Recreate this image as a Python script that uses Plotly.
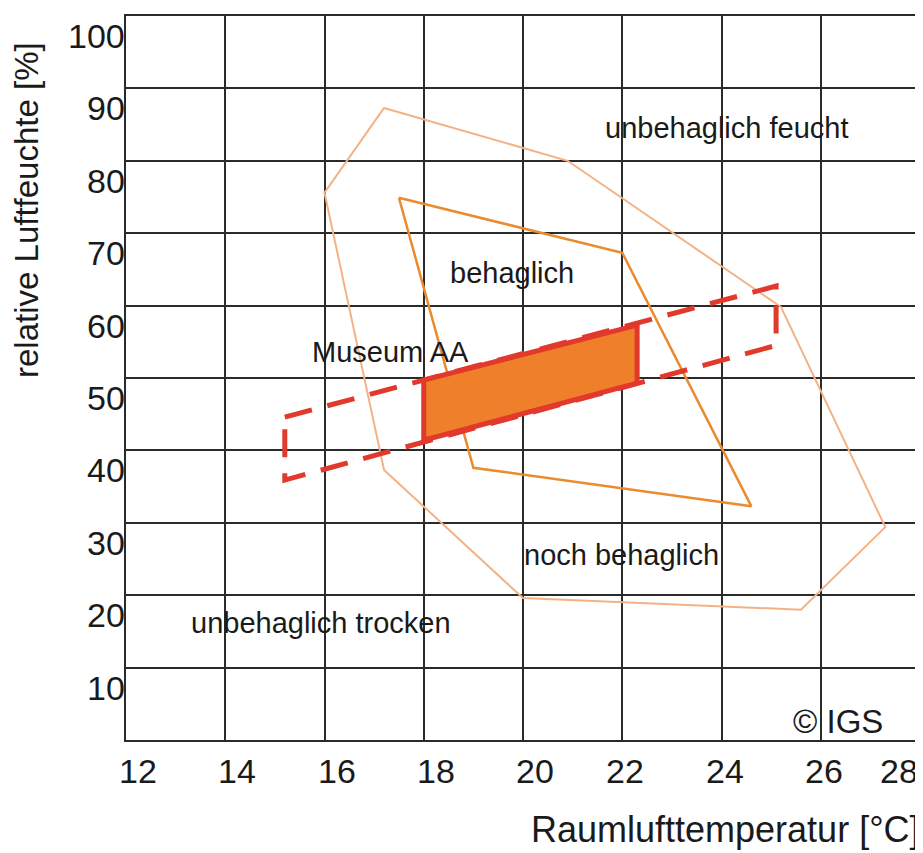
import plotly.graph_objects as go

# ---- data ----
# outer zone "noch behaglich" (temperature °C, relative humidity %)
noch_temp = [17.2, 20.9, 25.2, 27.3, 25.6, 20.0, 17.2, 16.0, 17.2]
noch_rh = [87.3, 80.0, 59.8, 29.4, 18.0, 19.6, 37.3, 75.6, 87.3]

# inner zone "behaglich"
beh_temp = [17.5, 22.0, 24.6, 19.0, 17.5]
beh_rh = [74.9, 67.3, 32.3, 37.6, 74.9]

# Museum AA (solid, filled)
museum_temp = [18.0, 22.3, 22.3, 18.0, 18.0]
museum_rh = [49.7, 57.3, 49.3, 41.4, 49.7]

# Museum AA extended range (dashed)
museum_ext_temp = [15.2, 25.1, 25.1, 15.2, 15.2]
museum_ext_rh = [44.6, 62.7, 54.5, 35.9, 44.6]

x_ticks = [12, 14, 16, 18, 20, 22, 24, 26, 28]
x_tick_labels = ["12", "14", "16", "18", "20", "22", "24", "26", "28"]
y_ticks = [10, 20, 30, 40, 50, 60, 70, 80, 90, 100]
y_tick_labels = ["10", "20", "30", "40", "50", "60", "70", "80", "90", "100"]

zone_labels = ["unbehaglich feucht", "behaglich", "Museum AA", "noch behaglich", "unbehaglich trocken"]
zone_label_temp = [24.1, 19.78, 17.33, 21.99, 15.92]
zone_label_rh = [84.5, 64.5, 53.6, 25.6, 16.2]

x_title = "Raumlufttemperatur [°C]"
y_title = "relative Luftfeuchte [%]"
credit = "© IGS"

FONT = "Liberation Sans, Arial, sans-serif"
LIGHT_ORANGE = "#f3b286"
ORANGE = "#e98b2e"
FILL_ORANGE = "#ef7f2a"
RED = "#e2392d"
GRID = "#2a2a2a"
TEXT = "#1a1a1a"

fig = go.Figure()

fig.add_trace(go.Scatter(x=noch_temp, y=noch_rh, mode="lines",
                         line=dict(color=LIGHT_ORANGE, width=2), hoverinfo="skip"))
fig.add_trace(go.Scatter(x=beh_temp, y=beh_rh, mode="lines",
                         line=dict(color=ORANGE, width=2.5), hoverinfo="skip"))
fig.add_trace(go.Scatter(x=museum_ext_temp, y=museum_ext_rh, mode="lines",
                         line=dict(color=RED, width=5, dash="28px,16px"), hoverinfo="skip"))
fig.add_trace(go.Scatter(x=museum_temp, y=museum_rh, mode="lines", fill="toself",
                         fillcolor=FILL_ORANGE,
                         line=dict(color=RED, width=5), hoverinfo="skip"))

annotations = []
for t, lab in zip(x_ticks, x_tick_labels):
    if t == x_ticks[-1]:
        annotations.append(dict(x=t, y=0, xref="x", yref="paper", text=lab, showarrow=False,
                                xanchor="right", yanchor="middle", yshift=-31,
                                font=dict(family=FONT, size=34, color=TEXT)))
    else:
        shift = 12 if t <= 20 else 3
        annotations.append(dict(x=t, y=0, xref="x", yref="paper", text=lab, showarrow=False,
                                xanchor="center", yanchor="middle", xshift=shift, yshift=-31,
                                font=dict(family=FONT, size=34, color=TEXT)))
for v, lab in zip(y_ticks, y_tick_labels):
    annotations.append(dict(x=0, y=v, xref="paper", yref="y", text=lab, showarrow=False,
                            xanchor="right", yanchor="middle", xshift=1, yshift=-20,
                            font=dict(family=FONT, size=34, color=TEXT)))

for lab, t, h in zip(zone_labels, zone_label_temp, zone_label_rh):
    annotations.append(dict(x=t, y=h, xref="x", yref="y", text=lab, showarrow=False,
                            xanchor="center", yanchor="middle",
                            font=dict(family=FONT, size=29, color=TEXT)))

annotations.append(dict(x=26.34, y=2.6, xref="x", yref="y", text=credit, showarrow=False,
                        xanchor="center", yanchor="middle",
                        font=dict(family=FONT, size=33, color=TEXT)))

annotations.append(dict(x=1, y=0, xref="paper", yref="paper", text=x_title, showarrow=False,
                        xanchor="right", yanchor="middle", xshift=2, yshift=-89,
                        font=dict(family=FONT, size=36, color=TEXT)))
annotations.append(dict(x=0, y=1, xref="paper", yref="paper", text=y_title, showarrow=False,
                        textangle=-90, xanchor="center", yanchor="middle",
                        xshift=-100, yshift=-194,
                        font=dict(family=FONT, size=33, color=TEXT)))

# page body has an 8px margin, so the figure is shrunk by that offset
fig.update_layout(
    width=915, height=845,
    margin=dict(l=118, r=3, t=8, b=113),
    paper_bgcolor="white", plot_bgcolor="white",
    showlegend=False,
    annotations=annotations,
    xaxis=dict(range=[12, 28], tickvals=x_ticks, showticklabels=False,
               showgrid=True, gridcolor=GRID, gridwidth=1.6,
               showline=True, linecolor=GRID, linewidth=2, mirror=True,
               zeroline=False, ticks="", automargin=False, fixedrange=True),
    yaxis=dict(range=[0, 100], tickvals=y_ticks, showticklabels=False,
               showgrid=True, gridcolor=GRID, gridwidth=1.6,
               showline=True, linecolor=GRID, linewidth=2, mirror=True,
               zeroline=False, ticks="", automargin=False, fixedrange=True),
)

fig.write_html("out.html")
